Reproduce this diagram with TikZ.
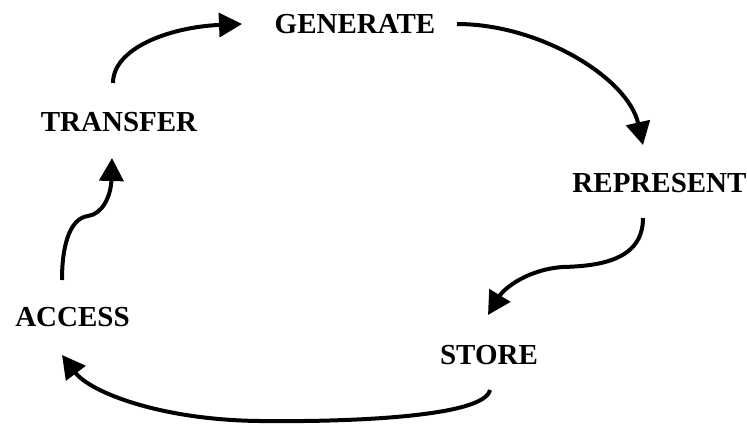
\documentclass[tikz,border=0pt]{standalone}
\usepackage{fontspec}
\setmainfont{Liberation Serif}
\usetikzlibrary{arrows.meta}
\begin{document}
\begin{tikzpicture}[x=1pt,y=-1pt,
  lbl/.style={inner sep=0pt,font=\fontsize{29}{29}\selectfont\bfseries},
  flow/.style={line width=4pt,-{Triangle[length=23pt,width=24pt]}}]
\useasboundingbox[fill=white] (0,0) rectangle (747,426);
\node[lbl] (gen) at (355,24.5) {GENERATE};
\node[lbl] (tra) at (119,122) {TRANSFER};
\node[lbl] (rep) at (659.5,183.5) {REPRESENT};
\node[lbl] (acc) at (72.5,317.5) {ACCESS};
\node[lbl] (sto) at (489,355) {STORE};
\coordinate (t1) at (113,83);
\coordinate (g1) at (242,24);
\coordinate (g2) at (457,24);
\coordinate (r1) at (643,145);
\coordinate (r2) at (643,218);
\coordinate (s1) at (488,315);
\coordinate (s2) at (490,390);
\coordinate (a1) at (62,355);
\coordinate (a2) at (62,280);
\coordinate (t2) at (112,158);
\draw[flow] (t1) .. controls (113,48) and (170,27) .. (g1);
\draw[flow] (g2) .. controls (540,24) and (628,78) .. (r1);
\draw[flow] (r2) .. controls (643,260) and (600,266) .. (563,267)
  .. controls (530,269) and (505,287) .. (s1);
\draw[flow] (s2) .. controls (484,418) and (340,422) .. (260,421)
  .. controls (160,420) and (90,392) .. (a1);
\draw[flow] (a2) .. controls (62,240) and (72,218) .. (88,216)
  .. controls (103,214) and (111,195) .. (t2);
\end{tikzpicture}
\end{document}
